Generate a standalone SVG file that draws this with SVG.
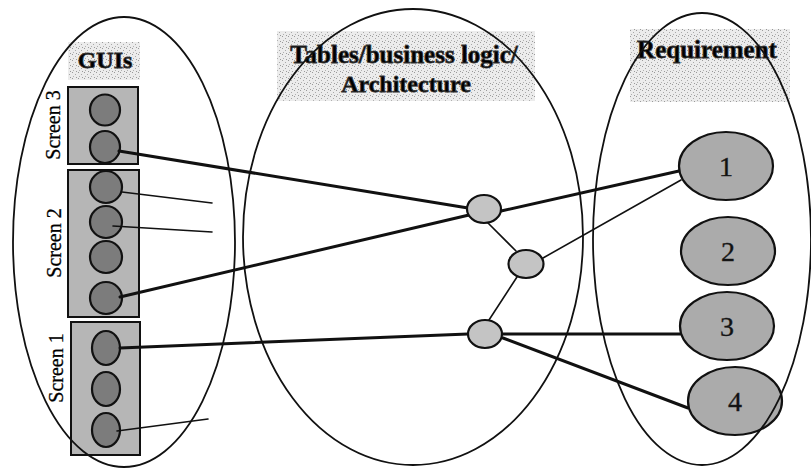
<svg xmlns="http://www.w3.org/2000/svg" width="811" height="468" viewBox="0 0 811 468">
<defs>
<pattern id="noise" width="6" height="6" patternUnits="userSpaceOnUse">
<rect width="6" height="6" fill="#ececec"/>
<rect x="0" y="0" width="1" height="1" fill="#9a9a9a"/>
<rect x="3" y="2" width="1" height="1" fill="#a8a8a8"/>
<rect x="1" y="4" width="1" height="1" fill="#b0b0b0"/>
<rect x="4" y="5" width="1" height="1" fill="#9a9a9a"/>
</pattern>
</defs>
<style>
.lbg{fill:url(#noise);}
.title{font-family:"Liberation Serif","Times New Roman",serif;font-weight:bold;font-size:24px;fill:#000;text-anchor:middle;stroke:#333;stroke-width:0.8px;}
.scr{font-family:"Liberation Serif","Times New Roman",serif;font-size:20px;fill:#000;text-anchor:middle;stroke:#000;stroke-width:0.3px;}
.box{fill:#b6b6b6;stroke:#111;stroke-width:2;}
.gui{fill:#7c7c7c;stroke:#111;stroke-width:2.2;}
.mid{fill:#c4c4c4;stroke:#111;stroke-width:2.2;}
.req{fill:#ababab;stroke:#111;stroke-width:2.2;}
.num{font-family:"Liberation Serif","Times New Roman",serif;font-size:28px;fill:#111;text-anchor:middle;stroke:#222;stroke-width:0.4px;}
.thick{stroke:#111;stroke-width:3;fill:none;stroke-linecap:round;}
.thin{stroke:#111;stroke-width:1.6;fill:none;stroke-linecap:round;}
.cont{fill:none;stroke:#111;stroke-width:1.8;}
</style>

<g id="label-guis">
<rect class="lbg" x="68" y="42" width="72" height="38"/>
<text class="title" x="105" y="68">GUIs</text>
</g>
<g id="label-tables">
<rect class="lbg" x="277" y="31" width="258" height="70"/>
<text class="title" x="404" y="63" style="font-size:25px">Tables/business logic/</text>
<text class="title" x="406" y="92">Architecture</text>
</g>
<g id="label-requirement">
<rect class="lbg" x="630" y="29" width="160" height="73"/>
<text class="title" x="707" y="58" style="font-size:25px">Requirement</text>
</g>

<g id="screen3">
<rect class="box" x="68" y="87" width="70" height="77"/>
<ellipse class="gui" cx="105" cy="110" rx="15" ry="15.5"/>
<ellipse class="gui" cx="105" cy="147" rx="15" ry="16"/>
<text class="scr" transform="translate(60,125) rotate(-90)">Screen 3</text>
</g>
<g id="screen2">
<rect class="box" x="68" y="170" width="71" height="147"/>
<ellipse class="gui" cx="106" cy="187" rx="16" ry="16"/>
<ellipse class="gui" cx="106" cy="222" rx="16" ry="16"/>
<ellipse class="gui" cx="106" cy="257" rx="16" ry="16"/>
<ellipse class="gui" cx="106" cy="298" rx="16" ry="16"/>
<text class="scr" transform="translate(61,243) rotate(-90)">Screen 2</text>
</g>
<g id="screen1">
<rect class="box" x="71" y="322" width="69" height="133"/>
<ellipse class="gui" cx="106" cy="348" rx="14" ry="17"/>
<ellipse class="gui" cx="106" cy="389" rx="14" ry="17"/>
<ellipse class="gui" cx="106" cy="430" rx="14" ry="17"/>
<text class="scr" transform="translate(63,368) rotate(-90)">Screen 1</text>
</g>

<g id="connectors">
<line class="thick" x1="119" y1="151" x2="468" y2="208"/>
<line class="thin" x1="122" y1="192" x2="212" y2="203"/>
<line class="thin" x1="113" y1="226" x2="212" y2="232"/>
<line class="thick" x1="120" y1="297" x2="469" y2="215"/>
<line class="thick" x1="501" y1="211" x2="679" y2="171"/>
<line class="thin" x1="487" y1="222" x2="516" y2="251"/>
<line class="thin" x1="543" y1="258" x2="681" y2="180"/>
<line class="thin" x1="517" y1="277" x2="489" y2="320"/>
<line class="thick" x1="120" y1="348" x2="468" y2="334"/>
<line class="thick" x1="503" y1="334" x2="680" y2="334"/>
<line class="thick" x1="503" y1="338" x2="688" y2="408"/>
<line class="thin" x1="117" y1="431" x2="208" y2="419"/>
</g>

<g id="nodeA"><ellipse class="mid" cx="484" cy="209" rx="17" ry="14"/></g>
<g id="nodeB"><ellipse class="mid" cx="526" cy="264" rx="17.5" ry="14"/></g>
<g id="nodeC"><ellipse class="mid" cx="485" cy="334" rx="17" ry="14"/></g>

<g id="req1"><ellipse class="req" cx="726" cy="166" rx="47" ry="34"/><text class="num" x="726" y="176">1</text></g>
<g id="req2"><ellipse class="req" cx="728" cy="251" rx="47" ry="34"/><text class="num" x="728" y="261">2</text></g>
<g id="req3"><ellipse class="req" cx="727" cy="326" rx="47" ry="34"/><text class="num" x="727" y="336">3</text></g>
<g id="req4"><ellipse class="req" cx="735" cy="401" rx="47" ry="34"/><text class="num" x="735" y="411">4</text></g>

<g id="container-guis"><ellipse class="cont" cx="124" cy="242" rx="111" ry="225"/></g>
<g id="container-tables"><ellipse class="cont" cx="413" cy="237" rx="170" ry="228"/></g>
<g id="container-requirement"><ellipse class="cont" cx="702" cy="239" rx="109" ry="226"/></g>
</svg>
